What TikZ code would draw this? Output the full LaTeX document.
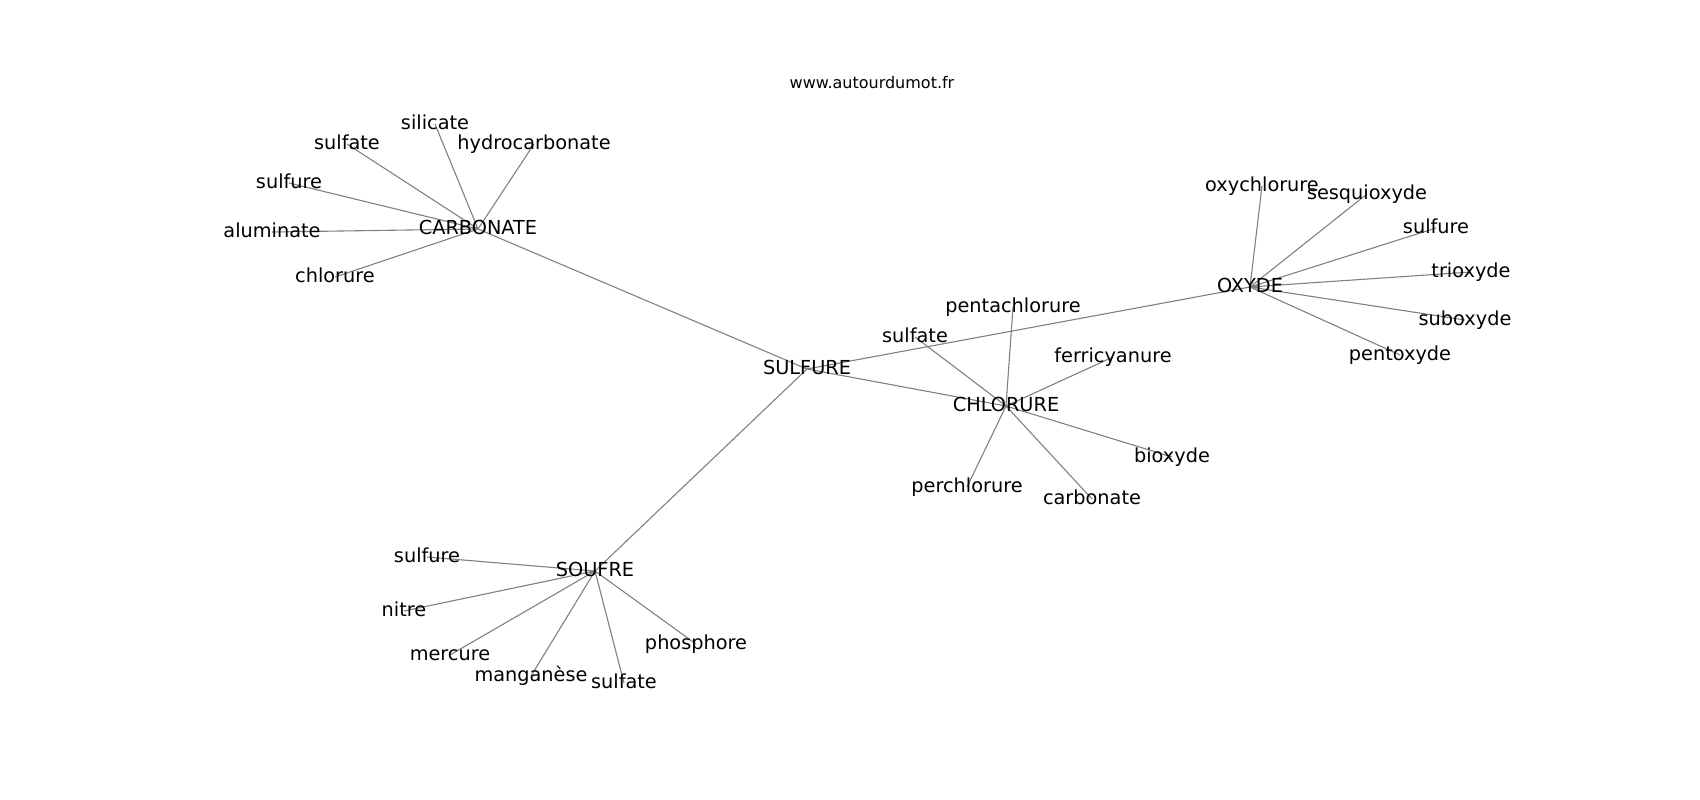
\documentclass[tikz,border=0pt]{standalone}
\usepackage{fontspec}
\setmainfont{DejaVu Sans}
\usetikzlibrary{backgrounds}
\begin{document}
\begin{tikzpicture}[x=1pt, y=-1pt,
  word/.style={inner sep=0pt, text height=1.14em, text depth=0em, font=\fontsize{19.3pt}{23pt}\selectfont},
  edge/.style={draw=black!50, line width=1.1pt}]
  \useasboundingbox (0,0) rectangle (1700,800);

  \node[inner sep=0pt, font=\fontsize{16pt}{19pt}\selectfont] (site) at (872,83) {www.autourdumot.fr};

  % Hub words
  \node[word] (sulfure) at (807,369) {SULFURE};
  \node[word] (carbonate) at (478,229) {CARBONATE};
  \node[word] (oxyde) at (1250,287) {OXYDE};
  \node[word] (chlorure) at (1006,406) {CHLORURE};
  \node[word] (soufre) at (595,571) {SOUFRE};

  % Words round CARBONATE
  \node[word] (c1) at (435,124) {silicate};
  \node[word] (c2) at (347,144) {sulfate};
  \node[word] (c3) at (534,144) {hydrocarbonate};
  \node[word] (c4) at (289,183) {sulfure};
  \node[word] (c5) at (272,232) {aluminate};
  \node[word] (c6) at (335,277) {chlorure};

  % Words round OXYDE
  \node[word] (o1) at (1262,186) {oxychlorure};
  \node[word] (o2) at (1367,194) {sesquioxyde};
  \node[word] (o3) at (1436,228) {sulfure};
  \node[word] (o4) at (1471,272) {trioxyde};
  \node[word] (o5) at (1465,320) {suboxyde};
  \node[word] (o6) at (1400,355) {pentoxyde};

  % Words round CHLORURE
  \node[word] (h1) at (1013,307) {pentachlorure};
  \node[word] (h2) at (915,337) {sulfate};
  \node[word] (h3) at (1113,357) {ferricyanure};
  \node[word] (h4) at (1172,457) {bioxyde};
  \node[word] (h5) at (1092,499) {carbonate};
  \node[word] (h6) at (967,487) {perchlorure};

  % Words round SOUFRE
  \node[word] (s1) at (427,557) {sulfure};
  \node[word] (s2) at (404,611) {nitre};
  \node[word] (s3) at (450,655) {mercure};
  \node[word] (s4) at (531,676) {manganèse};
  \node[word] (s5) at (624,683) {sulfate};
  \node[word] (s6) at (696,644) {phosphore};

  \begin{scope}[on background layer]
    % SULFURE to the hubs
    \draw[edge] (sulfure.center) -- (carbonate.center);
    \draw[edge] (sulfure.center) -- (oxyde.center);
    \draw[edge] (sulfure.center) -- (chlorure.center);
    \draw[edge] (sulfure.center) -- (soufre.center);

    \draw[edge] (carbonate.center) -- (c1.center) (carbonate.center) -- (c2.center)
      (carbonate.center) -- (c3.center) (carbonate.center) -- (c4.center)
      (carbonate.center) -- (c5.center) (carbonate.center) -- (c6.center);
    \draw[edge] (oxyde.center) -- (o1.center) (oxyde.center) -- (o2.center)
      (oxyde.center) -- (o3.center) (oxyde.center) -- (o4.center)
      (oxyde.center) -- (o5.center) (oxyde.center) -- (o6.center);
    \draw[edge] (chlorure.center) -- (h1.center) (chlorure.center) -- (h2.center)
      (chlorure.center) -- (h3.center) (chlorure.center) -- (h4.center)
      (chlorure.center) -- (h5.center) (chlorure.center) -- (h6.center);
    \draw[edge] (soufre.center) -- (s1.center) (soufre.center) -- (s2.center)
      (soufre.center) -- (s3.center) (soufre.center) -- (s4.center)
      (soufre.center) -- (s5.center) (soufre.center) -- (s6.center);
  \end{scope}
\end{tikzpicture}
\end{document}
